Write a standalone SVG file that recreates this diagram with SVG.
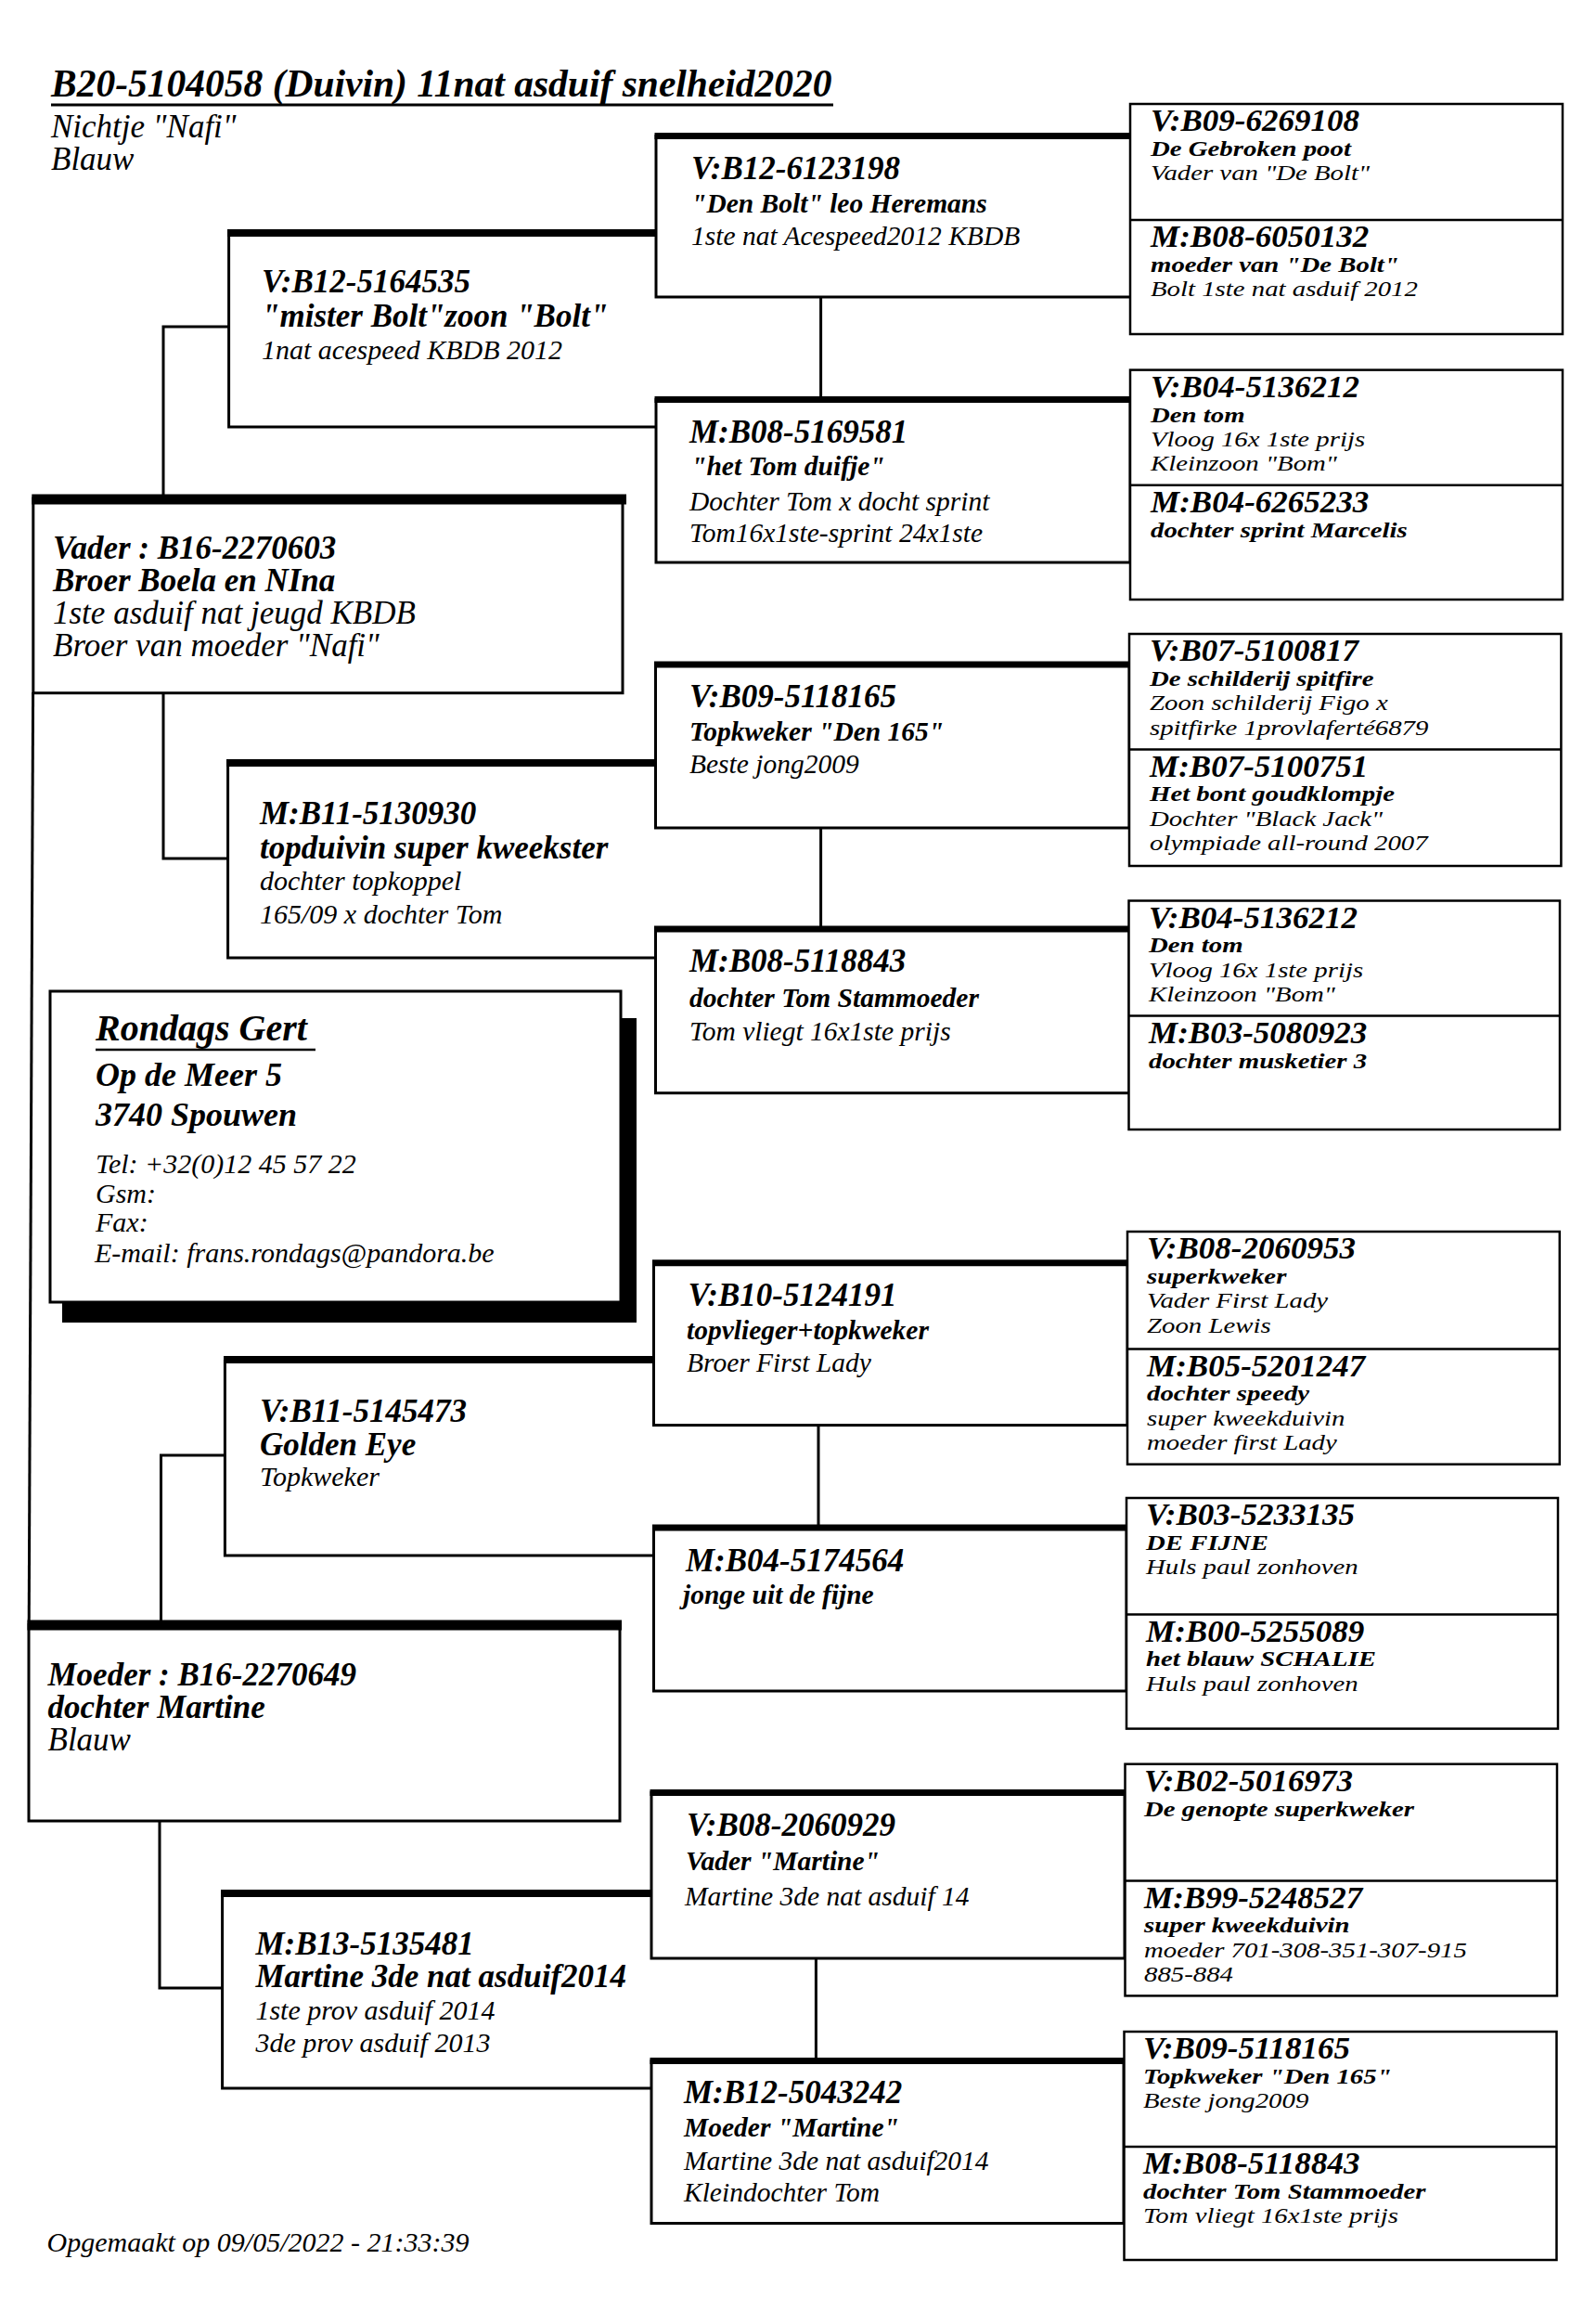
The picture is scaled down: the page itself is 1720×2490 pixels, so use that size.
<svg xmlns="http://www.w3.org/2000/svg" width="1720" height="2490" viewBox="0 0 1720 2490">
<style>
.bx{fill:#fff;stroke:#000;stroke-width:3}
.b4{fill:#fff;stroke:#000;stroke-width:2.5}
.ln{fill:none;stroke:#000;stroke-width:3}
.dv{stroke:#000;stroke-width:2.5}
.t7{stroke:#000;stroke-width:7}
.t8{stroke:#000;stroke-width:8}
.t11{stroke:#000;stroke-width:11}
text{font-family:"Liberation Serif","Times New Roman",serif;font-style:italic;fill:#000}
.b{font-weight:bold}
.f41{font-size:41.5px}
.f40{font-size:40px}
.f36{font-size:36px}
.f35{font-size:35px}
.f30{font-size:30px}
.f29{font-size:29.5px}
.h4{font-weight:bold;font-size:34px}
.s4{font-size:24px}
</style>
<rect width="1720" height="2490" fill="#fff"/>

<g id="header">
<text class="b f41" x="55" y="104">B20-5104058 (Duivin) 11nat asduif snelheid2020</text>
<line x1="55" y1="113" x2="898" y2="113" stroke="#000" stroke-width="3"/>
<text class="f35" x="55" y="148">Nichtje "Nafi"</text>
<text class="f35" x="55" y="183">Blauw</text>
</g>

<g id="connectors">
<path class="ln" d="M246.6,352 H176 V537"/>
<path class="ln" d="M176,746.7 V925 H245.6"/>
<path class="ln" d="M242.4,1568 H173.5 V1750"/>
<path class="ln" d="M172,1962 V2142 H239.6"/>
<path class="ln" d="M35.6,746 L31.2,1750"/>
<line class="ln" x1="884.6" y1="320" x2="884.6" y2="430.6"/>
<line class="ln" x1="884.6" y1="892" x2="884.6" y2="1001"/>
<line class="ln" x1="882" y1="1535.6" x2="882" y2="1646"/>
<line class="ln" x1="879.4" y1="2110" x2="879.4" y2="2220.6"/>
</g>

<g id="vader">
<rect class="bx" x="35.8" y="537" width="635.2" height="209.7"/>
<line class="t11" x1="34.3" y1="538" x2="675" y2="538"/>
<text class="b f35" x="57" y="602">Vader : B16-2270603</text>
<text class="b f35" x="57" y="637">Broer Boela en NIna</text>
<text class="f35" x="57" y="672">1ste asduif nat jeugd KBDB</text>
<text class="f35" x="57" y="707">Broer van moeder "Nafi"</text>
</g>

<g id="moeder">
<rect class="bx" x="31" y="1751" width="637" height="211"/>
<line class="t11" x1="29.5" y1="1751" x2="670" y2="1751"/>
<text class="b f35" x="51.5" y="1816">Moeder : B16-2270649</text>
<text class="b f35" x="51.5" y="1851">dochter Martine</text>
<text class="f35" x="51.5" y="1886">Blauw</text>
</g>

<g id="owner">
<rect x="67" y="1097" width="619" height="328" fill="#000"/>
<rect class="bx" x="54" y="1068" width="615" height="335"/>
<text class="b f40" x="103" y="1121">Rondags Gert</text>
<line x1="103" y1="1131" x2="340" y2="1131" stroke="#000" stroke-width="2.5"/>
<text class="b f36" x="103" y="1170">Op de Meer 5</text>
<text class="b f36" x="103" y="1213">3740 Spouwen</text>
<text class="f30" x="103" y="1264">Tel: +32(0)12 45 57 22</text>
<text class="f30" x="103" y="1295.5">Gsm:</text>
<text class="f30" x="103" y="1327">Fax:</text>
<text class="f30" x="102" y="1360">E-mail: frans.rondags@pandora.be</text>
</g>

<g id="g2a">
<path class="ln" d="M707,460 H246.6 V251"/>
<line class="t8" x1="245" y1="251" x2="707" y2="251"/>
<text class="b f35" x="282" y="315">V:B12-5164535</text>
<text class="b f35" x="282" y="351.7">"mister Bolt"zoon "Bolt"</text>
<text class="f30" x="282" y="386.5">1nat acespeed KBDB 2012</text>
</g>
<g id="g2b">
<path class="ln" d="M706.5,1032 H245.6 V822"/>
<line class="t8" x1="244" y1="822" x2="706.5" y2="822"/>
<text class="b f35" x="280" y="888">M:B11-5130930</text>
<text class="b f35" x="280" y="925">topduivin super kweekster</text>
<text class="f30" x="280" y="959">dochter topkoppel</text>
<text class="f30" x="280" y="995">165/09 x dochter Tom</text>
</g>
<g id="g2c">
<path class="ln" d="M704.5,1676 H242.4 V1465"/>
<line class="t8" x1="241" y1="1465" x2="704.5" y2="1465"/>
<text class="b f35" x="280" y="1532">V:B11-5145473</text>
<text class="b f35" x="280" y="1568">Golden Eye</text>
<text class="f30" x="280" y="1601">Topkweker</text>
</g>
<g id="g2d">
<path class="ln" d="M702,2250 H239.6 V2040"/>
<line class="t8" x1="238" y1="2040" x2="702" y2="2040"/>
<text class="b f35" x="275.4" y="2105.6">M:B13-5135481</text>
<text class="b f35" x="275.4" y="2141">Martine 3de nat asduif2014</text>
<text class="f30" x="275.4" y="2176">1ste prov asduif 2014</text>
<text class="f30" x="275.4" y="2211">3de prov asduif 2013</text>
</g>

<g id="g3a">
<rect class="bx" x="707" y="146.5" width="511.5" height="173.5"/>
<line class="t7" x1="705.5" y1="146.5" x2="1218.5" y2="146.5"/>
<text class="b f35" x="745" y="193">V:B12-6123198</text>
<text class="b f29" x="745" y="229">"Den Bolt" leo Heremans</text>
<text class="f29" x="745" y="263.6">1ste nat Acespeed2012 KBDB</text>
</g>
<g id="g3b">
<rect class="bx" x="707" y="430.6" width="511" height="175.4"/>
<line class="t7" x1="705.5" y1="430.6" x2="1218" y2="430.6"/>
<text class="b f35" x="743" y="477">M:B08-5169581</text>
<text class="b f29" x="745" y="511.6">"het Tom duifje"</text>
<text class="f29" x="743" y="549.5">Dochter Tom x docht sprint</text>
<text class="f29" x="743" y="584">Tom16x1ste-sprint 24x1ste</text>
</g>
<g id="g3c">
<rect class="bx" x="706.5" y="716" width="510.5" height="176"/>
<line class="t7" x1="705" y1="716" x2="1217" y2="716"/>
<text class="b f35" x="743" y="761.8">V:B09-5118165</text>
<text class="b f29" x="743" y="797.5">Topkweker "Den 165"</text>
<text class="f29" x="743" y="833">Beste jong2009</text>
</g>
<g id="g3d">
<rect class="bx" x="706.5" y="1001" width="510.5" height="176.7"/>
<line class="t7" x1="705" y1="1001" x2="1217" y2="1001"/>
<text class="b f35" x="743" y="1047">M:B08-5118843</text>
<text class="b f29" x="743" y="1085">dochter Tom Stammoeder</text>
<text class="f29" x="743" y="1120.6">Tom vliegt 16x1ste prijs</text>
</g>
<g id="g3e">
<rect class="bx" x="704.5" y="1360.7" width="510.5" height="174.9"/>
<line class="t7" x1="703" y1="1360.7" x2="1215" y2="1360.7"/>
<text class="b f35" x="741.6" y="1407">V:B10-5124191</text>
<text class="b f29" x="740" y="1442.8">topvlieger+topkweker</text>
<text class="f29" x="740" y="1477.8">Broer First Lady</text>
</g>
<g id="g3f">
<rect class="bx" x="704.5" y="1646" width="509.5" height="176"/>
<line class="t7" x1="703" y1="1646" x2="1214" y2="1646"/>
<text class="b f35" x="739" y="1692.7">M:B04-5174564</text>
<text class="b f29" x="736" y="1728">jonge uit de fijne</text>
</g>
<g id="g3g">
<rect class="bx" x="702" y="1931.4" width="510" height="178.6"/>
<line class="t7" x1="700.5" y1="1931.4" x2="1212" y2="1931.4"/>
<text class="b f35" x="740" y="1977.8">V:B08-2060929</text>
<text class="b f29" x="739" y="2015">Vader "Martine"</text>
<text class="f29" x="738" y="2052.8">Martine 3de nat asduif 14</text>
</g>
<g id="g3h">
<rect class="bx" x="702" y="2220.6" width="509" height="174.9"/>
<line class="t7" x1="700.5" y1="2220.6" x2="1211" y2="2220.6"/>
<text class="b f35" x="737" y="2266">M:B12-5043242</text>
<text class="b f29" x="737" y="2302">Moeder "Martine"</text>
<text class="f29" x="737" y="2337.7">Martine 3de nat asduif2014</text>
<text class="f29" x="737" y="2372">Kleindochter Tom</text>
</g>

<g id="g4a">
<rect class="b4" x="1218" y="112" width="466" height="248"/>
<line class="dv" x1="1218" y1="237" x2="1684" y2="237"/>
<g transform="translate(1240,0)">
<text class="h4" transform="scale(1.03,1)" x="0" y="141.5">V:B09-6269108</text>
<text class="s4 b" transform="scale(1.2,1)" x="0" y="168">De Gebroken poot</text>
<text class="s4" transform="scale(1.2,1)" x="0" y="194.3">Vader van "De Bolt"</text>
<text class="h4" transform="scale(1.03,1)" x="0" y="266.5">M:B08-6050132</text>
<text class="s4 b" transform="scale(1.2,1)" x="0" y="293">moeder van "De Bolt"</text>
<text class="s4" transform="scale(1.2,1)" x="0" y="319.3">Bolt 1ste nat asduif 2012</text>
</g>
</g>
<g id="g4b">
<rect class="b4" x="1218" y="398.6" width="466" height="247.4"/>
<line class="dv" x1="1218" y1="522.7" x2="1684" y2="522.7"/>
<g transform="translate(1240,0)">
<text class="h4" transform="scale(1.03,1)" x="0" y="428.1">V:B04-5136212</text>
<text class="s4 b" transform="scale(1.2,1)" x="0" y="454.6">Den tom</text>
<text class="s4" transform="scale(1.2,1)" x="0" y="480.9">Vloog 16x 1ste prijs</text>
<text class="s4" transform="scale(1.2,1)" x="0" y="507.2">Kleinzoon "Bom"</text>
<text class="h4" transform="scale(1.03,1)" x="0" y="552.2">M:B04-6265233</text>
<text class="s4 b" transform="scale(1.2,1)" x="0" y="578.7">dochter sprint Marcelis</text>
</g>
</g>
<g id="g4c">
<rect class="b4" x="1217" y="683" width="465.4" height="250"/>
<line class="dv" x1="1217" y1="807.5" x2="1682.4" y2="807.5"/>
<g transform="translate(1239,0)">
<text class="h4" transform="scale(1.03,1)" x="0" y="712.5">V:B07-5100817</text>
<text class="s4 b" transform="scale(1.2,1)" x="0" y="739">De schilderij spitfire</text>
<text class="s4" transform="scale(1.2,1)" x="0" y="765.3">Zoon schilderij Figo x</text>
<text class="s4" transform="scale(1.2,1)" x="0" y="791.6">spitfirke 1provlaferté6879</text>
<text class="h4" transform="scale(1.03,1)" x="0" y="837">M:B07-5100751</text>
<text class="s4 b" transform="scale(1.2,1)" x="0" y="863.5">Het bont goudklompje</text>
<text class="s4" transform="scale(1.2,1)" x="0" y="889.8">Dochter "Black Jack"</text>
<text class="s4" transform="scale(1.2,1)" x="0" y="916.1">olympiade all-round 2007</text>
</g>
</g>
<g id="g4d">
<rect class="b4" x="1216.5" y="970.5" width="464.5" height="246.5"/>
<line class="dv" x1="1216.5" y1="1094.6" x2="1681" y2="1094.6"/>
<g transform="translate(1238,0)">
<text class="h4" transform="scale(1.03,1)" x="0" y="1000">V:B04-5136212</text>
<text class="s4 b" transform="scale(1.2,1)" x="0" y="1026.5">Den tom</text>
<text class="s4" transform="scale(1.2,1)" x="0" y="1052.8">Vloog 16x 1ste prijs</text>
<text class="s4" transform="scale(1.2,1)" x="0" y="1079.1">Kleinzoon "Bom"</text>
<text class="h4" transform="scale(1.03,1)" x="0" y="1124.1">M:B03-5080923</text>
<text class="s4 b" transform="scale(1.2,1)" x="0" y="1150.6">dochter musketier 3</text>
</g>
</g>
<g id="g4e">
<rect class="b4" x="1215" y="1327" width="465.8" height="250.7"/>
<line class="dv" x1="1215" y1="1453.5" x2="1680.8" y2="1453.5"/>
<g transform="translate(1236,0)">
<text class="h4" transform="scale(1.03,1)" x="0" y="1356.5">V:B08-2060953</text>
<text class="s4 b" transform="scale(1.2,1)" x="0" y="1383">superkweker</text>
<text class="s4" transform="scale(1.2,1)" x="0" y="1409.3">Vader First Lady</text>
<text class="s4" transform="scale(1.2,1)" x="0" y="1435.6">Zoon Lewis</text>
<text class="h4" transform="scale(1.03,1)" x="0" y="1483">M:B05-5201247</text>
<text class="s4 b" transform="scale(1.2,1)" x="0" y="1509.5">dochter speedy</text>
<text class="s4" transform="scale(1.2,1)" x="0" y="1535.8">super kweekduivin</text>
<text class="s4" transform="scale(1.2,1)" x="0" y="1562.1">moeder first Lady</text>
</g>
</g>
<g id="g4f">
<rect class="b4" x="1214" y="1614" width="465" height="248.6"/>
<line class="dv" x1="1214" y1="1739.5" x2="1679" y2="1739.5"/>
<g transform="translate(1235,0)">
<text class="h4" transform="scale(1.03,1)" x="0" y="1643.5">V:B03-5233135</text>
<text class="s4 b" transform="scale(1.2,1)" x="0" y="1670">DE FIJNE</text>
<text class="s4" transform="scale(1.2,1)" x="0" y="1696.3">Huls paul zonhoven</text>
<text class="h4" transform="scale(1.03,1)" x="0" y="1769">M:B00-5255089</text>
<text class="s4 b" transform="scale(1.2,1)" x="0" y="1795.5">het blauw SCHALIE</text>
<text class="s4" transform="scale(1.2,1)" x="0" y="1821.8">Huls paul zonhoven</text>
</g>
</g>
<g id="g4g">
<rect class="b4" x="1212.5" y="1900.7" width="465.5" height="249.7"/>
<line class="dv" x1="1212.5" y1="2026.5" x2="1678" y2="2026.5"/>
<g transform="translate(1233,0)">
<text class="h4" transform="scale(1.03,1)" x="0" y="1930.2">V:B02-5016973</text>
<text class="s4 b" transform="scale(1.2,1)" x="0" y="1956.7">De genopte superkweker</text>
<text class="h4" transform="scale(1.03,1)" x="0" y="2056">M:B99-5248527</text>
<text class="s4 b" transform="scale(1.2,1)" x="0" y="2082.5">super kweekduivin</text>
<text class="s4" transform="scale(1.2,1)" x="0" y="2108.8">moeder 701-308-351-307-915</text>
<text class="s4" transform="scale(1.2,1)" x="0" y="2135.1">885-884</text>
</g>
</g>
<g id="g4h">
<rect class="b4" x="1211.5" y="2189" width="466" height="246"/>
<line class="dv" x1="1211.5" y1="2313" x2="1677.5" y2="2313"/>
<g transform="translate(1232,0)">
<text class="h4" transform="scale(1.03,1)" x="0" y="2218.5">V:B09-5118165</text>
<text class="s4 b" transform="scale(1.2,1)" x="0" y="2245">Topkweker "Den 165"</text>
<text class="s4" transform="scale(1.2,1)" x="0" y="2271.3">Beste jong2009</text>
<text class="h4" transform="scale(1.03,1)" x="0" y="2342.5">M:B08-5118843</text>
<text class="s4 b" transform="scale(1.2,1)" x="0" y="2369">dochter Tom Stammoeder</text>
<text class="s4" transform="scale(1.2,1)" x="0" y="2395.3">Tom vliegt 16x1ste prijs</text>
</g>
</g>

<g id="footer">
<text class="f30" x="50.5" y="2425.5">Opgemaakt op 09/05/2022 - 21:33:39</text>
</g>
</svg>
